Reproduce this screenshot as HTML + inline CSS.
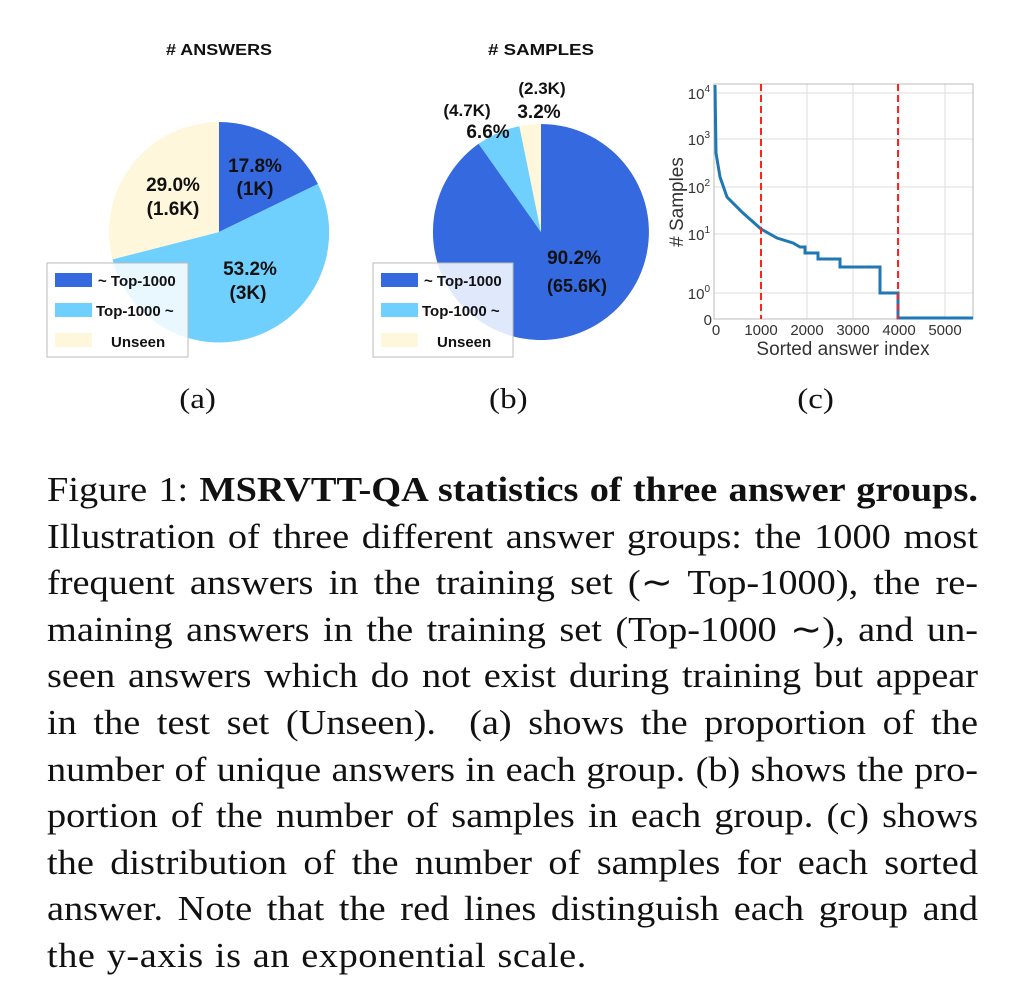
<!DOCTYPE html>
<html><head><meta charset="utf-8"><style>
body{margin:0;background:#fff;width:1024px;height:994px;overflow:hidden;position:relative}
.cap{position:absolute;left:47px;width:850px;top:467px;font-family:"Liberation Serif",serif;font-size:35px;line-height:46.6px;color:#111;transform:scaleX(1.0953);transform-origin:0 0}
.cap div{text-align:justify;text-align-last:justify;white-space:nowrap}
.cap div.last{text-align-last:left;letter-spacing:0.5px;word-spacing:1px}
.sub{position:absolute;top:384px;font-family:"Liberation Serif",serif;font-size:28px;color:#111;transform:scaleX(1.18);transform-origin:50% 0}
</style></head><body>
<svg width="1024" height="460" style="position:absolute;left:0;top:0" font-family="Liberation Sans, sans-serif">
<g font-weight="bold" font-size="16" text-anchor="middle" fill="#111">
<text x="219" y="55" textLength="106" lengthAdjust="spacingAndGlyphs"># ANSWERS</text>
<text x="541" y="55" textLength="106" lengthAdjust="spacingAndGlyphs"># SAMPLES</text>
</g>
<path d="M219,232 L219,122 A110 110 0 0 1 317.9,184 Z" fill="#3469e0"/>
<path d="M219,232 L317.9,184 A110 110 0 1 1 112.5,259.4 Z" fill="#6fcffd"/>
<path d="M219,232 L112.5,259.4 A110 110 0 0 1 219,122 Z" fill="#fff7dc"/>
<g font-size="19" font-weight="bold" text-anchor="middle" fill="#111">
<text x="255" y="172">17.8%</text><text x="255" y="195">(1K)</text>
<text x="173" y="191">29.0%</text><text x="173" y="215">(1.6K)</text>
<text x="250" y="275">53.2%</text><text x="248" y="299">(3K)</text>
</g>
<path d="M541,232 L541,124 A108 108 0 1 1 478.6,143.8 Z" fill="#3469e0"/>
<path d="M541,232 L478.6,143.8 A108 108 0 0 1 519.4,126.2 Z" fill="#6fcffd"/>
<path d="M541,232 L519.4,126.2 A108 108 0 0 1 541,124 Z" fill="#fff7dc"/>
<g font-size="19" font-weight="bold" text-anchor="middle" fill="#111">
<text x="467" y="116" font-size="17">(4.7K)</text><text x="488" y="138">6.6%</text>
<text x="542" y="94" font-size="17">(2.3K)</text><text x="539" y="118">3.2%</text>
<text x="574" y="264">90.2%</text><text x="577" y="292" font-size="18">(65.6K)</text>
</g>
<g>
<rect x="47" y="263" width="141" height="94" fill="#fff" fill-opacity="0.85" stroke="#bbb"/>
<rect x="55" y="273" width="37" height="14" fill="#3469e0"/>
<rect x="55" y="303" width="37" height="14" fill="#6fcffd"/>
<rect x="55" y="333" width="37" height="14" fill="#fff7dc"/>
<g font-size="15" font-weight="bold" fill="#111">
<text x="98" y="286">~ Top-1000</text><text x="96" y="316">Top-1000 ~</text><text x="111" y="347">Unseen</text>
</g>
<rect x="373" y="263" width="140" height="94" fill="#fff" fill-opacity="0.85" stroke="#bbb"/>
<rect x="381" y="273" width="37" height="14" fill="#3469e0"/>
<rect x="381" y="303" width="37" height="14" fill="#6fcffd"/>
<rect x="381" y="333" width="37" height="14" fill="#fff7dc"/>
<g font-size="15" font-weight="bold" fill="#111">
<text x="424" y="286">~ Top-1000</text><text x="422" y="316">Top-1000 ~</text><text x="437" y="347">Unseen</text>
</g>
</g>
<g stroke="#ddd" stroke-width="1">
<line x1="714" y1="93" x2="973" y2="93"/><line x1="714" y1="139" x2="973" y2="139"/>
<line x1="714" y1="187" x2="973" y2="187"/><line x1="714" y1="234" x2="973" y2="234"/>
<line x1="714" y1="293" x2="973" y2="293"/>
<line x1="761" y1="84" x2="761" y2="319"/><line x1="807" y1="84" x2="807" y2="319"/>
<line x1="853" y1="84" x2="853" y2="319"/><line x1="899" y1="84" x2="899" y2="319"/>
<line x1="945" y1="84" x2="945" y2="319"/>
</g>
<rect x="714" y="84" width="259" height="235" fill="none" stroke="#bbb"/>
<polyline fill="none" stroke="#1f77b4" stroke-width="3" points="715,85 716,153 720,177 727,197 743,213 761,229 777,238 793,243 800,247 805,247 805,253 818,253 818,259 840,259 840,267 880,267 880,293 898,293 898,318 973,318"/>
<g stroke="#f22" stroke-width="2" stroke-dasharray="7,4">
<line x1="761" y1="84" x2="761" y2="319"/><line x1="898" y1="84" x2="898" y2="319"/>
</g>
<g font-size="15" fill="#333" text-anchor="end">
<text x="710" y="99">10<tspan font-size="10" dy="-7">4</tspan></text>
<text x="710" y="145">10<tspan font-size="10" dy="-7">3</tspan></text>
<text x="710" y="193">10<tspan font-size="10" dy="-7">2</tspan></text>
<text x="710" y="240">10<tspan font-size="10" dy="-7">1</tspan></text>
<text x="710" y="299">10<tspan font-size="10" dy="-7">0</tspan></text>
<text x="712" y="325">0</text>
</g>
<g font-size="15" fill="#333" text-anchor="middle">
<text x="716" y="335">0</text><text x="761" y="335">1000</text><text x="807" y="335">2000</text>
<text x="853" y="335">3000</text><text x="899" y="335">4000</text><text x="945" y="335">5000</text>
</g>
<text x="843" y="355" font-size="19" fill="#333" text-anchor="middle">Sorted answer index</text>
<text transform="translate(683,202) rotate(-90)" font-size="19" fill="#333" text-anchor="middle"># Samples</text>
</svg>
<div class="sub" style="left:182px">(a)</div>
<div class="sub" style="left:492px">(b)</div>
<div class="sub" style="left:800px">(c)</div>
<div class="cap">
<div>Figure 1: <b>MSRVTT-QA statistics of three answer groups.</b></div>
<div>Illustration of three different answer groups: the 1000 most</div>
<div>frequent answers in the training set (∼ Top-1000), the re-</div>
<div>maining answers in the training set (Top-1000 ∼), and un-</div>
<div>seen answers which do not exist during training but appear</div>
<div>in the test set (Unseen). &nbsp;(a) shows the proportion of the</div>
<div>number of unique answers in each group. (b) shows the pro-</div>
<div>portion of the number of samples in each group. (c) shows</div>
<div>the distribution of the number of samples for each sorted</div>
<div>answer. Note that the red lines distinguish each group and</div>
<div class="last">the y-axis is an exponential scale.</div>
</div>
</body></html>
